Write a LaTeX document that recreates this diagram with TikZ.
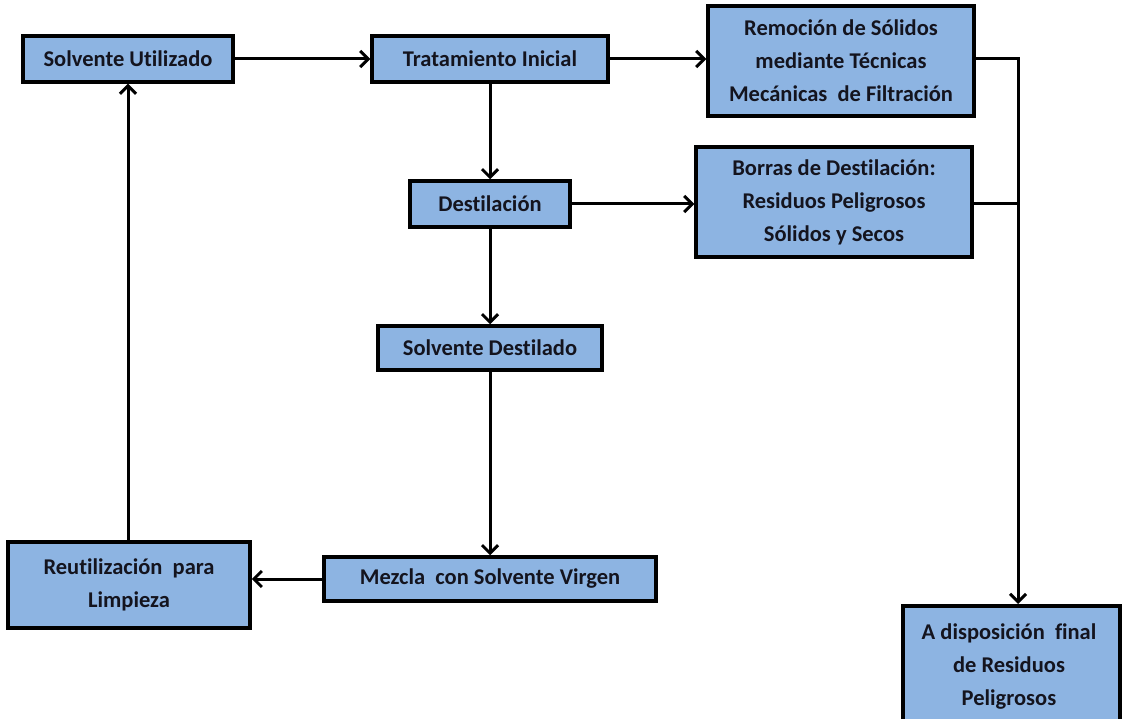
\documentclass[tikz,border=0pt]{standalone}
\usepackage{fontspec}
\setmainfont[Ligatures=NoCommon]{Carlito}
\usetikzlibrary{arrows.meta,calc}
\definecolor{boxblue}{RGB}{141,180,226}
\definecolor{txt}{RGB}{20,20,30}
\tikzset{
  boxfont/.style={font=\fontsize{22.5}{33}\selectfont\bfseries},
  stepbox/.style={draw=black, line width=3.5pt, fill=boxblue, text=txt, boxfont,
    align=center, inner sep=0pt, anchor=center},
  flow/.style={line width=3pt, -{Straight Barb[length=8pt,width=16pt,line width=3pt]}},
  plain/.style={line width=3pt}
}
\begin{document}
\begin{tikzpicture}[x=1pt,y=-1pt]
\useasboundingbox (0,0) rectangle (1125,719);
\node[stepbox, minimum width=210pt, minimum height=46pt] (su) at (128,59) {Solvente Utilizado};
\node[stepbox, minimum width=236pt, minimum height=46pt] (ti) at (490,59) {Tratamiento Inicial};
\node[stepbox, minimum width=266pt, minimum height=110pt] (rs) at (841,61) {Remoción de Sólidos\\mediante Técnicas\\Mecánicas\ \ de Filtración};
\node[stepbox, minimum width=160pt, minimum height=46pt] (de) at (490,204) {Destilación};
\node[stepbox, minimum width=276pt, minimum height=110pt] (bd) at (834,202) {Borras de Destilación:\\Residuos Peligrosos\\Sólidos y Secos};
\node[stepbox, minimum width=224pt, minimum height=44pt] (sd) at (490,348) {Solvente Destilado};
\node[stepbox, minimum width=332pt, minimum height=44pt] (mz) at (490,579) {Mezcla\ \ con Solvente Virgen};
\node[stepbox, minimum width=242pt, minimum height=86pt] (ru) at (129,585) {Reutilización\ \ para\\Limpieza};
\node[stepbox, minimum width=217pt, minimum height=130pt, anchor=north west] (ad) at (901,604) {};
\node[boxfont, text=txt, align=center, anchor=north] (adt) at (1009,620) {A disposición\ \ final\\de Residuos\\Peligrosos};
\coordinate (j) at (1018,59);
\draw[flow] (su) -- (ti);
\draw[flow] (ti) -- (rs.west |- ti);
\draw[flow] (ti) -- (de);
\draw[flow] (de) -- (bd.west |- de);
\draw[flow] (de) -- (sd);
\draw[flow] (sd) -- (mz);
\draw[flow] (mz) -- (ru.east |- mz);
\draw[flow] (ru.north -| su.south) -- (su);
\draw[plain] (rs.east |- j) -- ([xshift=1.5pt]j);
\draw[flow] (j) -- (ad.north -| j);
\draw[plain] (bd.east |- de) -- (de -| j);
\end{tikzpicture}
\end{document}
